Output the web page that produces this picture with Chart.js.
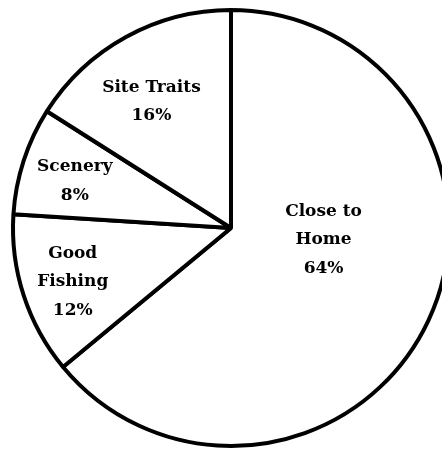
<!DOCTYPE html>
<html>
<head>
<meta charset="utf-8">
<script src="https://cdn.jsdelivr.net/npm/chart.js@4"></script>
<style>
html,body{margin:0;padding:0;background:#fff;overflow:hidden;width:442px;height:449px;}
#wrap{position:absolute;left:0;top:0;width:462px;height:456px;}
</style>
</head>
<body>
<div id="wrap"><canvas id="c" width="462" height="456"></canvas></div>
<script>
const categories = ["Close to Home", "Good Fishing", "Scenery", "Site Traits"];
const labelLines = [["Close to", "Home"], ["Good", "Fishing"], ["Scenery"], ["Site Traits"]];
const values = [64, 12, 8, 16];

// label placement relative to each slice: fraction of radius, angle offset (deg)
const labelPlace = [
  {frac: 0.428, dAng: -17.9},
  {frac: 0.767, dAng: -0.8},
  {frac: 0.748, dAng: -1.3},
  {frac: 0.685, dAng: -3.4}
];

const labelPlugin = {
  id: 'sliceLabels',
  afterDatasetsDraw(chart) {
    const ctx = chart.ctx;
    const meta = chart.getDatasetMeta(0);
    const total = values.reduce((a, b) => a + b, 0);
    ctx.save();
    ctx.fillStyle = '#000';
    ctx.font = 'bold 17px "DejaVu Serif"';
    ctx.textAlign = 'center';
    ctx.textBaseline = 'middle';
    const lh = 28.5;
    meta.data.forEach((arc, i) => {
      const p = arc.getProps(['x', 'y', 'startAngle', 'endAngle', 'outerRadius'], true);
      const mid = (p.startAngle + p.endAngle) / 2 + labelPlace[i].dAng * Math.PI / 180;
      const r = p.outerRadius * labelPlace[i].frac;
      const cx = p.x + Math.cos(mid) * r;
      const cy = p.y + Math.sin(mid) * r;
      const lines = labelLines[i].concat([Math.round(values[i] / total * 100) + '%']);
      const y0 = cy - (lines.length - 1) * lh / 2;
      lines.forEach((t, k) => ctx.fillText(t, cx, y0 + k * lh));
    });
    ctx.restore();
  }
};

new Chart(document.getElementById('c'), {
  type: 'pie',
  data: {
    labels: categories,
    datasets: [{
      data: values,
      backgroundColor: '#ffffff',
      borderColor: '#000000',
      borderWidth: 4,
      hoverOffset: 0
    }]
  },
  options: {
    responsive: false,
    animation: false,
    radius: 218,
    rotation: 0,
    layout: {padding: 0},
    plugins: {legend: {display: false}, tooltip: {enabled: false}},
    events: []
  },
  plugins: [labelPlugin]
});
</script>
</body>
</html>
